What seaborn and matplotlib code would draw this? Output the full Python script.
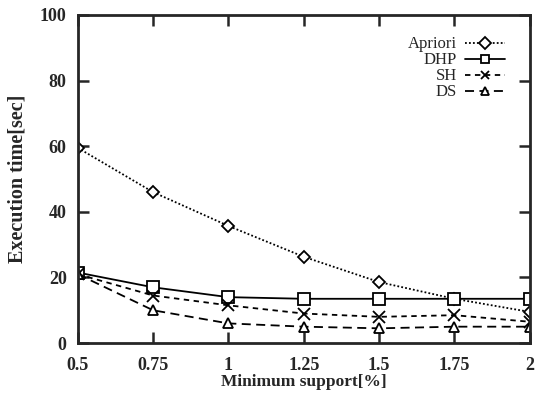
import matplotlib
matplotlib.use("Agg")
import matplotlib.pyplot as plt
import seaborn as sns
import pandas as pd

support = [0.5, 0.75, 1, 1.25, 1.5, 1.75, 2]
apriori = [59.5, 46, 35.7, 26.3, 18.6, 13.5, 9.5]
dhp = [21.5, 17, 14, 13.5, 13.5, 13.5, 13.5]
sh = [21, 14.5, 11.5, 9, 8, 8.5, 6.5]
ds = [21, 10, 6, 5, 4.5, 5, 5]
series_names = ["Apriori", "DHP", "SH", "DS"]
xticks = [0.5, 0.75, 1, 1.25, 1.5, 1.75, 2]
xticklabels = ["0.5", "0.75", "1", "1.25", "1.5", "1.75", "2"]
yticks = [0, 20, 40, 60, 80, 100]

sns.set_style("ticks")
plt.rcParams["font.family"] = ["Liberation Serif", "DejaVu Serif"]

df = pd.DataFrame({
    "support": support * 4,
    "time": apriori + dhp + sh + ds,
    "algo": sum([[n] * len(support) for n in series_names], []),
})

fig = plt.figure(figsize=(5.4, 3.93), dpi=100)
ax = fig.add_axes([0.144, 0.127, 0.837, 0.835])

styles = {
    "Apriori": dict(ls=(0, (1, 1.2)), marker="D", ms=6),
    "DHP": dict(ls="-", marker="s", ms=8),
    "SH": dict(ls=(0, (3, 2.5)), marker="x", ms=8),
    "DS": dict(ls=(0, (5, 3)), marker="^", ms=7),
}
for name in series_names:
    sub = df[df["algo"] == name]
    st = styles[name]
    sns.lineplot(data=sub, x="support", y="time", ax=ax, color="black",
                 linestyle=st["ls"], marker=st["marker"], markersize=st["ms"],
                 markerfacecolor="white", markeredgecolor="black",
                 markeredgewidth=1.3, linewidth=1.3, label=name)

ax.set_xlim(0.5, 2)
ax.set_ylim(0, 100)
ax.set_xticks(xticks)
ax.set_xticklabels(xticklabels)
ax.set_yticks(yticks)
ax.tick_params(direction="in", top=True, right=True, length=8, width=1.8,
               labelsize=13)
ax.tick_params(axis="x", pad=10)
ax.tick_params(axis="y", pad=8)
for lab in ax.get_xticklabels() + ax.get_yticklabels():
    lab.set_fontweight("bold")
for s in ax.spines.values():
    s.set_linewidth(2)
ax.set_xlabel("Minimum support[%]", fontsize=12.5, fontweight="bold", labelpad=0)
ax.set_ylabel("Execution time[sec]", fontsize=14.5, fontweight="bold", labelpad=9)

leg = ax.legend(loc="upper right", markerfirst=False, frameon=False,
                fontsize=12, handlelength=2.4, labelspacing=0.0,
                handletextpad=0.5, borderaxespad=0.0,
                bbox_to_anchor=(0.96, 0.955))
for h in leg.legend_handles:
    h.set_markersize(6)

fig.savefig("out.png", dpi=100)
